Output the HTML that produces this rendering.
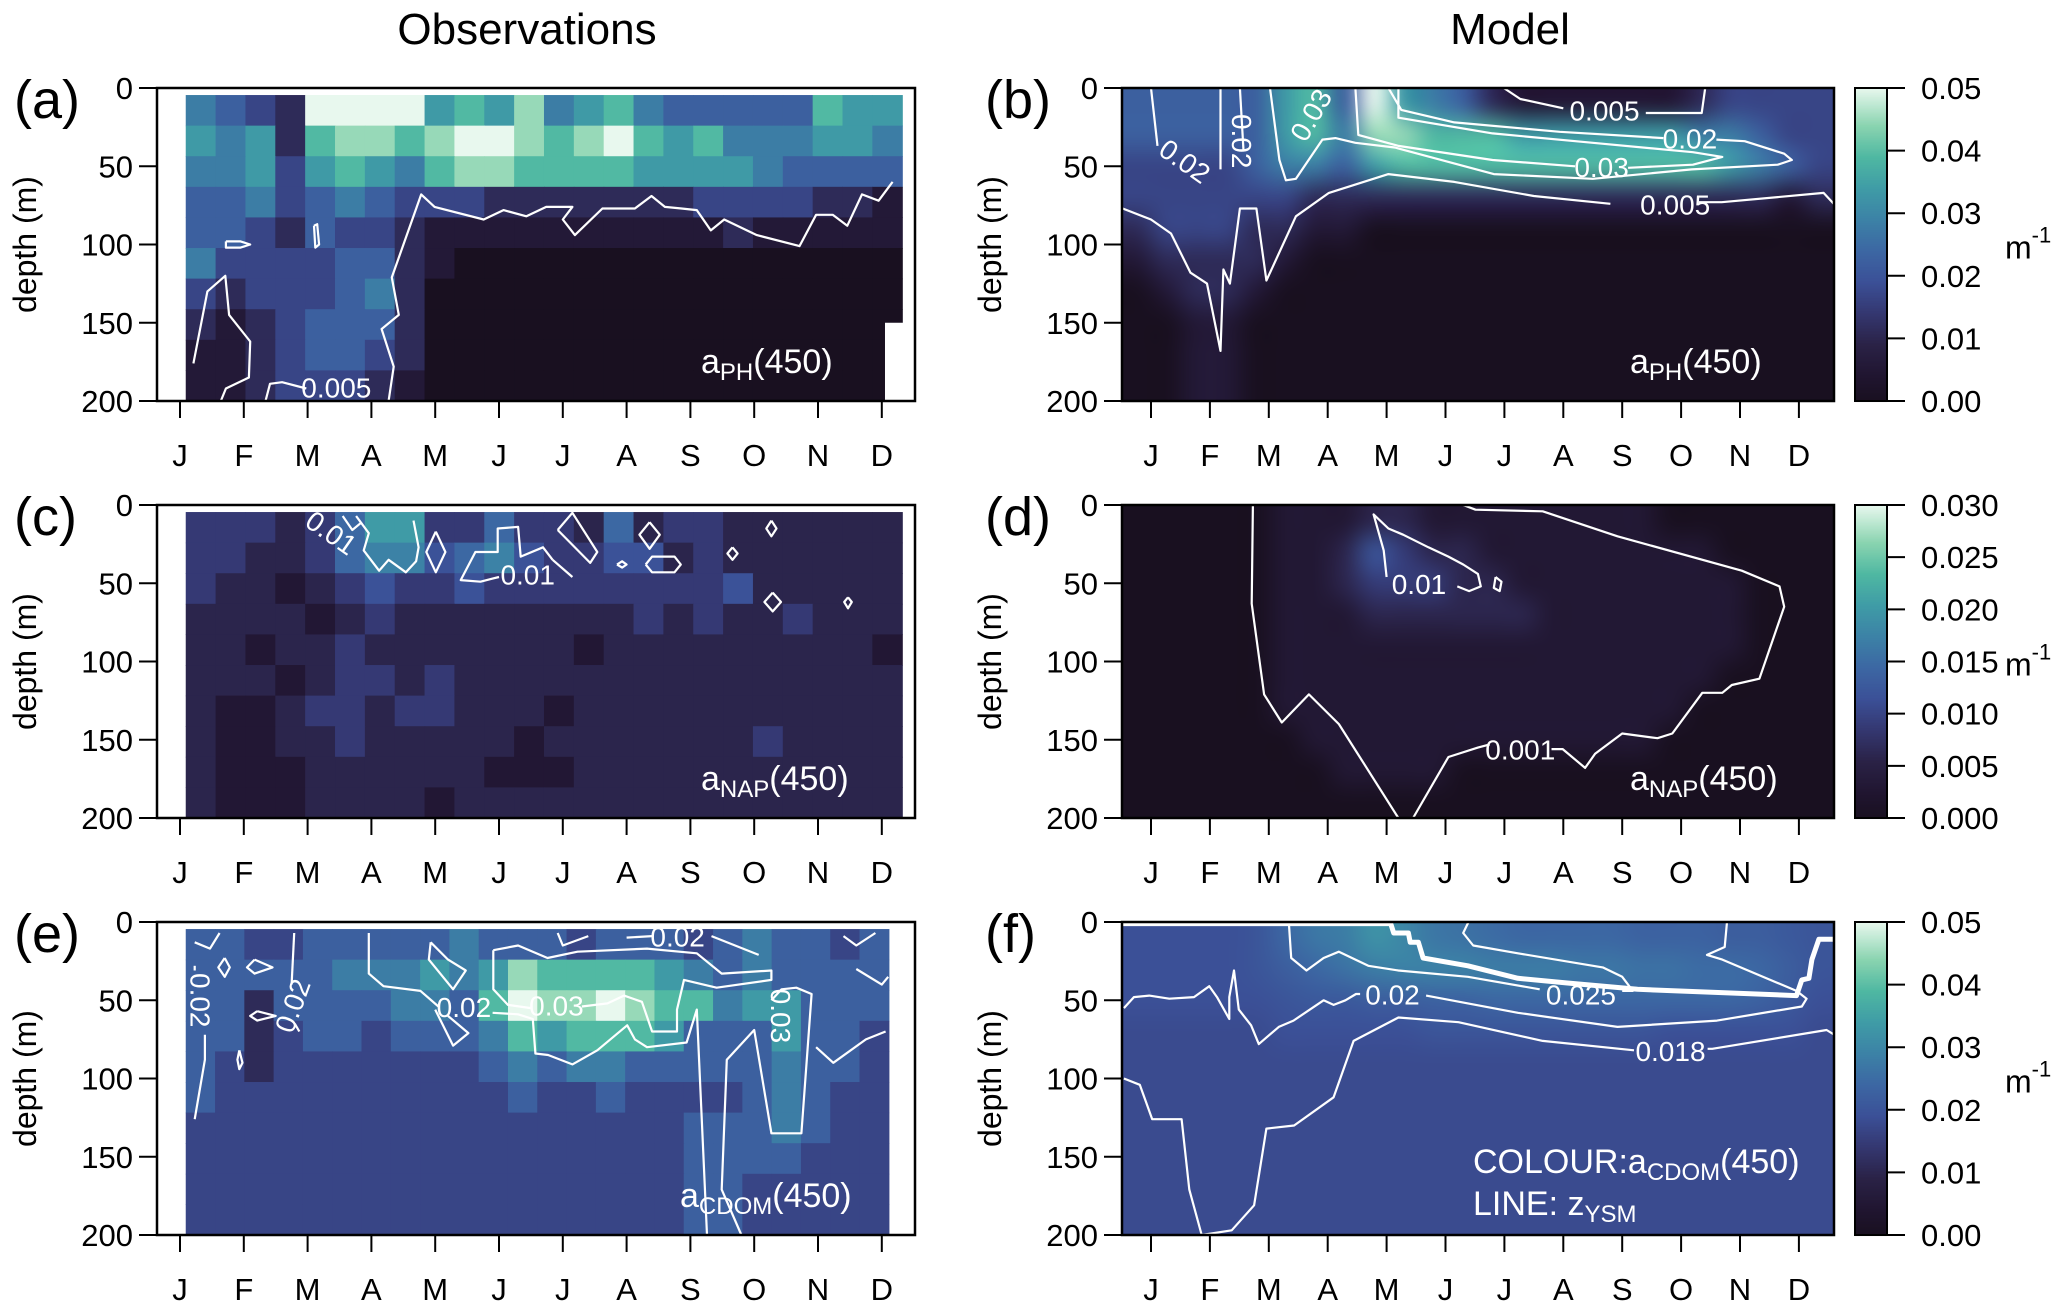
<!DOCTYPE html>
<html><head><meta charset="utf-8">
<style>
html,body{margin:0;padding:0;background:#fff;}
#wrap{position:relative;width:2067px;height:1310px;overflow:hidden;font-family:"Liberation Sans",sans-serif;}
#cv{position:absolute;left:0;top:0;}
#ov{position:absolute;left:0;top:0;}
</style></head>
<body>
<div id="wrap">
<canvas id="cv" width="2067" height="1310"></canvas>
<svg id="ov" width="2067" height="1310" xmlns="http://www.w3.org/2000/svg" font-family="Liberation Sans, sans-serif">
<text x="527" y="44" font-size="44" text-anchor="middle">Observations</text>
<text x="1510" y="44" font-size="44" text-anchor="middle">Model</text>
<g id="g"></g>
</svg>
</div>
<script>
const MONTHS=['J','F','M','A','M','J','J','A','S','O','N','D'];
const DEPTH_TICKS=[0,50,100,150,200];
const CB_TICKS_B=[0,0.01,0.02,0.03,0.04,0.05];
const CB_LABELS_B=['0.00','0.01','0.02','0.03','0.04','0.05'];
const CB_TICKS_D=[0,0.005,0.01,0.015,0.02,0.025,0.03];
const CB_LABELS_D=['0.000','0.005','0.010','0.015','0.020','0.025','0.030'];

const gridA=[
[5,4,3,2,9,9,9,9,6,7,6,8,5,6,7,5,4,4,4,4,4,7,6,6],
[6,5,6,2,7,8,8,7,8,9,9,8,7,8,9,7,6,7,5,5,5,6,6,5],
[5,5,6,3,6,7,6,5,7,8,8,7,7,7,7,6,6,6,6,5,4,4,4,4],
[4,4,5,3,4,5,4,3,3,3,2,2,2,2,2,2,2,3,3,3,3,2,2,1],
[4,4,3,2,4,3,3,2,1,1,1,1,1,1,1,1,1,1,2,1,1,1,1,1],
[5,3,3,3,3,4,4,2,1,0,0,0,0,0,0,0,0,0,0,0,0,0,0,0],
[3,2,3,3,3,4,5,2,0,0,0,0,0,0,0,0,0,0,0,0,0,0,0,0],
[2,1,2,3,4,4,4,2,0,0,0,0,0,0,0,0,0,0,0,0,0,0,0,0],
[1,1,2,3,4,4,3,2,0,0,0,0,0,0,0,0,0,0,0,0,0,0,0,0],
[1,1,2,3,3,3,2,1,0,0,0,0,0,0,0,0,0,0,0,0,0,0,0,0]];
const gridC=[
[3,3,3,2,3,5,7,7,3,3,5,3,3,2,5,2,3,3,2,2,2,2,2,2],
[3,3,2,2,3,5,6,6,4,5,6,4,3,3,4,4,2,3,2,2,2,2,2,2],
[3,2,2,1,2,3,4,3,3,4,3,3,3,3,3,3,3,3,4,2,2,2,2,2],
[2,2,2,2,1,2,3,2,2,2,2,2,2,2,2,3,2,3,2,2,3,2,2,2],
[2,2,1,2,2,3,2,2,2,2,2,2,2,1,2,2,2,2,2,2,2,2,2,1],
[2,2,2,1,2,3,3,2,3,2,2,2,2,2,2,2,2,2,2,2,2,2,2,2],
[2,1,1,2,3,3,2,3,3,2,2,2,1,2,2,2,2,2,2,2,2,2,2,2],
[2,1,1,2,2,3,2,2,2,2,2,1,2,2,2,2,2,2,2,3,2,2,2,2],
[2,1,1,1,2,2,2,2,2,2,1,1,1,2,2,2,2,2,2,2,2,2,2,2],
[2,1,1,1,2,2,2,2,1,2,2,2,2,2,2,2,2,2,2,2,2,2,2,2]];
const gridE=[
[4,4,3,3,4,4,4,4,4,5,4,4,4,3,4,4,4,3,4,5,4,4,3,4],
[4,4,4,4,4,5,5,5,6,5,6,8,7,7,7,7,6,5,4,5,4,4,4,4],
[4,4,2,4,4,4,4,5,5,4,7,9,8,8,9,8,7,7,5,6,6,4,4,4],
[4,4,2,3,4,4,3,4,4,4,5,7,6,7,7,7,6,4,4,4,6,4,4,3],
[4,3,2,3,3,3,3,3,3,3,4,5,4,5,5,4,4,4,4,4,5,4,4,3],
[4,3,3,3,3,3,3,3,3,3,3,4,3,3,4,3,3,3,3,4,5,4,3,3],
[3,3,3,3,3,3,3,3,3,3,3,3,3,3,3,3,3,4,4,4,5,4,3,3],
[3,3,3,3,3,3,3,3,3,3,3,3,3,3,3,3,3,4,4,4,4,3,3,3],
[3,3,3,3,3,3,3,3,3,3,3,3,3,3,3,3,3,4,4,3,3,3,3,3],
[3,3,3,3,3,3,3,3,3,3,3,3,3,3,3,3,3,4,4,3,3,3,3,3]];
const gridB=[
[4,4,4,4,4,6,7,4,9,6,5,4,2,1,1,1,1,1,1,2,3,3,3,3],
[4,4,4,4,4,6,7,5,8,8,7,7,7,6,6,6,6,6,6,5,5,4,3,3],
[3,3,3,3,4,5,5,4,6,7,7,7,7,7,7,7,7,7,7,7,6,5,4,3],
[3,3,3,3,3,3,2,2,2,2,2,2,2,2,2,2,2,2,2,2,2,2,1,2],
[2,3,3,3,2,2,1,1,0,0,0,0,0,0,0,0,0,0,0,0,0,0,0,0],
[1,2,2,2,2,1,0,0,0,0,0,0,0,0,0,0,0,0,0,0,0,0,0,0],
[0,1,2,2,1,0,0,0,0,0,0,0,0,0,0,0,0,0,0,0,0,0,0,0],
[0,0,1,1,0,0,0,0,0,0,0,0,0,0,0,0,0,0,0,0,0,0,0,0],
[0,0,1,1,0,0,0,0,0,0,0,0,0,0,0,0,0,0,0,0,0,0,0,0],
[0,0,1,1,0,0,0,0,0,0,0,0,0,0,0,0,0,0,0,0,0,0,0,0]];
const gridD=[
[0,0,0,0,0,1,1,1,2,2,1,1,1,1,1,1,1,1,0,0,0,0,0,0],
[0,0,0,0,0,1,1,2,4,3,2,2,1,1,1,1,1,1,1,1,0,0,0,0],
[0,0,0,0,0,1,1,2,3,3,3,2,2,1,1,1,1,1,1,1,1,0,0,0],
[0,0,0,0,0,1,1,1,2,2,2,2,2,2,1,1,1,1,1,1,1,0,0,0],
[0,0,0,0,0,1,1,1,1,1,1,1,1,1,1,1,1,1,1,1,1,0,0,0],
[0,0,0,0,0,1,1,1,1,1,1,1,1,1,1,1,1,1,1,1,0,0,0,0],
[0,0,0,0,0,1,1,1,1,1,1,1,1,1,1,1,1,1,1,0,0,0,0,0],
[0,0,0,0,0,0,1,1,1,1,1,1,1,1,1,1,1,1,0,0,0,0,0,0],
[0,0,0,0,0,0,0,1,1,1,1,0,0,0,0,0,0,0,0,0,0,0,0,0],
[0,0,0,0,0,0,0,0,0,0,0,0,0,0,0,0,0,0,0,0,0,0,0,0]];
const gridF=[
[19,19,19,19,20,24,27,28,32,30,27,26,25,24,24,24,24,23,23,23,22,22,21,20],
[19,19,19,19,20,22,24,26,28,29,29,29,28,28,28,27,27,26,26,25,25,24,22,20],
[19,19,19,19,19,20,21,21,22,22,23,23,24,24,24,24,24,24,24,24,24,23,21,19],
[18,18,18,18,18,19,19,19,19,19,20,20,20,20,20,20,20,20,19,19,19,19,19,18],
[18,18,18,18,18,18,18,18,18,18,18,18,18,18,18,18,18,18,18,18,18,18,18,18],
[18,18,18,18,18,18,18,18,18,18,18,18,18,18,18,18,18,18,18,18,18,18,18,18],
[18,18,18,18,18,18,18,18,18,18,18,18,18,18,18,18,18,18,18,18,18,18,18,18],
[18,18,18,18,18,18,18,18,18,18,18,18,18,18,18,18,18,18,18,18,18,18,18,18],
[18,18,18,18,18,18,18,18,18,18,18,18,18,18,18,18,18,18,18,18,18,18,18,18],
[18,18,18,18,18,18,18,18,18,18,18,18,18,18,18,18,18,18,18,18,18,18,18,18]];

const contA=[
[[3.27,200],[3.35,178],[3.16,154],[3.43,145],[3.32,121],[3.78,68],[3.99,76],[4.76,84],[5.07,78],[5.43,82],[5.74,76],[6.15,76],[6.0,84],[6.19,94],[6.62,77],[7.13,77],[7.39,69],[7.6,76],[7.86,77],[8.1,78],[8.32,91],[8.53,84],[9.04,94],[9.71,101],[9.97,81],[10.23,81],[10.46,88],[10.69,68],[10.95,72],[11.17,60]],
[[0.21,176],[0.43,130],[0.71,120],[0.77,145],[1.1,162],[1.08,185],[0.72,192],[0.64,200]],
[[1.34,200],[1.41,189],[1.6,188],[1.98,192]],
[[0.72,98],[0.95,98],[1.1,100],[0.95,102],[0.72,102],[0.72,98]],
[[2.1,88],[2.15,87],[2.18,100],[2.12,102],[2.1,88]]];
const labA=[['0.005',2.45,193,0]];
const contB=[
[[-0.48,77],[0,84],[0.34,93],[0.67,118],[0.95,125],[1.18,168],[1.23,116],[1.34,125],[1.51,77],[1.79,77],[1.96,123],[2.07,114],[2.46,82],[3.02,67],[4.03,55],[5.15,60],[6.5,69],[7.8,74]],
[[9.3,73],[9.69,73],[11.42,67],[11.59,74]],
[[5.99,0],[6.27,7],[7.0,13]],[[8.4,16],[9.35,16],[9.41,0]],
[[4.03,0],[4.25,14],[5.15,22],[6.94,28],[8.7,32]],
[[9.6,33],[10.08,34],[10.75,42],[10.88,46],[10.64,49],[9.18,52],[7.5,58],[5.82,55],[4.14,38],[3.47,35],[3.13,32],[2.91,33],[2.46,58],[2.29,59],[2.18,46],[2.02,0]],
[[3.47,0],[3.52,30],[4.2,37],[5.8,46],[7.2,50]],
[[8.1,51],[9.2,49],[9.7,44],[9.2,41],[7.5,35],[5.8,29],[4.2,19],[4.2,0]],
[[0,0],[0.11,37]],[[1.18,0],[1.18,52]],[[1.51,0],[1.57,40]]];
const labB=[['0.005',7.7,16,0],['0.02',9.15,34,0],['0.03',7.65,52,0],['0.005',8.9,76,0],['0.02',0.55,48,35],['0.02',1.5,34,90],['0.03',2.75,18,-60]];
const contC=[
[[2.76,7],[2.96,18],[2.88,29],[3.12,42],[3.27,35],[3.54,43],[3.7,36],[3.74,27],[3.66,10]],
[[2.55,7],[2.7,16],[2.85,11]],
[[4.01,17],[4.16,30],[4.01,43],[3.86,30],[4.01,17]],
[[5.84,35],[6.15,46]],[[5.0,46],[4.9,47],[4.71,49],[4.4,48],[4.63,30],[4.98,30],[4.98,15],[5.3,14],[5.34,33],[5.69,27],[5.84,35]],
[[5.92,16],[6.15,5],[6.54,30],[6.43,37],[5.92,16]],
[[7.36,11],[7.52,19],[7.36,28],[7.2,19],[7.36,11]],
[[7.3,38],[7.4,33],[7.75,33],[7.85,38],[7.75,43],[7.4,43],[7.3,38]],
[[9.27,10],[9.35,15],[9.27,20],[9.19,15],[9.27,10]],
[[8.66,27],[8.74,31],[8.66,35],[8.58,31],[8.66,27]],
[[9.29,56],[9.42,62],[9.29,68],[9.16,62],[9.29,56]],
[[10.47,59],[10.53,62],[10.47,66],[10.41,62],[10.47,59]],
[[6.85,38],[6.93,36],[7.0,38],[6.93,40],[6.85,38]]];
const labC=[['0.01',2.35,19,35],['0.01',5.45,46,0]];
const contD=[
[[1.73,0],[1.71,63],[1.92,121],[2.22,139],[2.68,121],[3.19,140],[4.2,200]],
[[4.45,200],[5.05,161],[5.55,155],[5.75,153]],
[[6.8,156],[6.99,156],[7.37,168],[7.54,159],[8.0,146],[8.6,149],[8.85,146],[9.36,120],[9.7,120],[9.86,115],[10.33,111],[10.75,65],[10.67,52],[10.03,42],[7.92,20],[6.65,4],[5.51,3],[5.3,0]],
[[4.0,46],[3.95,29],[3.78,6],[4.03,15],[4.28,19],[4.71,27],[5.05,33],[5.3,38],[5.55,44],[5.6,52],[5.4,55],[5.2,52]],
[[5.85,46],[5.95,49],[5.92,55],[5.82,53],[5.85,46]]];
const labD=[['0.01',4.55,52,0],['0.001',6.27,158,0]];
const contE=[
[[4.91,18],[5.3,15],[5.76,23],[6.23,19],[7.32,17],[8.1,20],[8.49,33],[9.27,31],[9.27,37],[8.41,42],[7.9,37],[7.79,56],[7.79,70],[7.4,70],[7.24,51],[6.96,47],[6.7,52],[6.3,54]],
[[5.5,55],[5.14,53],[4.91,43],[4.91,18]],
[[2.96,7],[2.96,33],[3.19,41],[3.77,44],[4.05,54]],
[[4.9,58],[5.3,59],[5.53,62],[5.57,84],[5.77,85],[6.15,91],[6.54,82],[7.01,66],[7.13,75],[7.32,80],[7.94,77],[8.1,56],[8.26,200]],
[[8.8,200],[8.49,171],[8.57,88],[9.0,69],[9.27,135],[9.74,135],[9.9,46],[9.66,42],[9.43,43],[9.27,50]],
[[9.97,80],[10.24,90],[10.75,75],[11.06,70]],
[[0.23,28],[0.23,31]],[[0.39,72],[0.39,88],[0.23,126]],
[[1.79,7],[1.75,40]],[[1.8,65],[1.87,70]],
[[0.23,13],[0.47,17],[0.62,7]],
[[0.7,23],[0.78,29],[0.7,35],[0.6,29],[0.7,23]],
[[1.17,24],[1.45,29],[1.17,33],[1.05,29],[1.17,24]],
[[1.21,57],[1.5,60],[1.21,63],[1.1,60],[1.21,57]],
[[0.93,82],[0.98,90],[0.93,94],[0.9,88],[0.93,82]],
[[5.92,7],[6.0,15],[6.4,9]],[[7.0,10],[7.4,9]],[[8.33,9],[9.07,21]],
[[3.93,13],[3.9,24],[4.28,43],[4.48,31],[4.2,24],[3.93,13]],
[[4.0,56],[4.28,79],[4.52,71],[4.2,60]],
[[10.4,9],[10.6,15],[10.9,7]],[[10.6,30],[11.0,40],[11.1,35]]];
const labE=[['0.02',0.28,50,90],['0.02',1.8,54,-70],['0.02',4.45,56,0],['0.03',5.9,55,0],['0.02',7.8,11,0],['0.03',9.38,60,90]];
const contF=[
[[2.34,0],[2.38,23],[2.64,31],[2.93,23],[3.19,19],[3.69,28],[4.2,31],[5.38,35],[6.6,43]],
[[8.0,44],[8.18,44],[8.0,35],[7.67,29],[6.23,20],[5.47,15],[5.3,7],[5.39,0]],
[[9.78,0],[9.74,16],[9.44,21],[9.7,24],[10.96,44],[11.13,49],[11.05,54],[9.61,63],[7.92,67],[6.23,58],[4.67,47]],
[[3.55,46],[3.48,46],[3.3,50],[3.1,53],[2.93,50],[2.42,63],[2.17,67],[1.83,78],[1.7,66],[1.49,56],[1.41,31],[1.33,48],[1.33,62],[1.12,48],[0.99,41],[0.73,48],[0.31,49],[-0.03,47],[-0.29,48],[-0.46,55]],
[[-0.46,100],[-0.19,104],[0.02,126],[0.52,126],[0.65,171],[0.86,200],[1.37,197],[1.75,181],[1.96,132],[2.43,130],[3.1,112],[3.44,76],[4.2,61],[5.22,64],[6.65,76],[8.2,82]],
[[9.45,81],[9.53,81],[11.47,69],[11.6,72]]];
const zysmF=[[-0.49,1],[2.26,1],[4.07,1],[4.12,7],[4.37,7],[4.4,13],[4.54,13],[4.62,23],[5.38,28],[6.23,36],[7.07,39],[8.26,43],[10.96,47],[11.05,37],[11.17,36],[11.22,24],[11.34,11],[11.6,11]];
const labF=[['0.02',4.1,48,0],['0.025',7.3,48,0],['0.018',8.82,84,0]];

const STOPS=[[0,'#191020'],[0.08,'#201530'],[0.18,'#2a2246'],[0.28,'#343770'],[0.38,'#3b5097'],[0.48,'#3c67a3'],[0.58,'#3c82a6'],[0.68,'#3f9ca6'],[0.78,'#4fb8a2'],[0.88,'#8ad4b0'],[1,'#e8f8ee']];
function hex(h){return [parseInt(h.substr(1,2),16),parseInt(h.substr(3,2),16),parseInt(h.substr(5,2),16)];}
function cmap(f){f=Math.max(0,Math.min(1,f));for(let i=1;i<STOPS.length;i++){if(f<=STOPS[i][0]){const a=STOPS[i-1],b=STOPS[i];const t=(f-a[0])/(b[0]-a[0]);const ca=hex(a[1]),cb=hex(b[1]);return ca.map((v,k)=>Math.round(v+(cb[k]-v)*t));}}return hex(STOPS[STOPS.length-1][1]);}

const ROWTOP=[88,505,922], PH=313;
const COLS=[{box0:157,box1:915,t0:180,dx:63.8},{box0:1122,box1:1834,t0:1151,dx:58.9}];
function xS(c,m){return COLS[c].t0+m*COLS[c].dx;}
function yS(r,d){return ROWTOP[r]+d*PH/200;}

const panels=[
{id:'a',c:0,r:0,grid:gridA,unit:0.0056,vmax:0.05,smooth:false,m0:0.09,m1:11.32,d0:4.5,cont:contA,lab:labA,sub:'PH'},
{id:'b',c:1,r:0,grid:gridB,unit:0.0056,vmax:0.05,smooth:true,m0:-0.49,m1:11.6,d0:0,cont:contB,lab:labB,sub:'PH',cb:[CB_TICKS_B,CB_LABELS_B]},
{id:'c',c:0,r:1,grid:gridC,unit:0.0029,vmax:0.03,smooth:false,m0:0.09,m1:11.32,d0:4.5,cont:contC,lab:labC,sub:'NAP'},
{id:'d',c:1,r:1,grid:gridD,unit:0.003,vmax:0.03,smooth:true,m0:-0.49,m1:11.6,d0:0,cont:contD,lab:labD,sub:'NAP',cb:[CB_TICKS_D,CB_LABELS_D]},
{id:'e',c:0,r:2,grid:gridE,unit:0.0056,vmax:0.05,smooth:false,m0:0.09,m1:11.11,d0:4.5,cont:contE,lab:labE,sub:'CDOM'},
{id:'f',c:1,r:2,grid:gridF,unit:0.001,vmax:0.05,smooth:true,m0:-0.49,m1:11.6,d0:0,cont:contF,lab:labF,sub:'CDOM',cb:[CB_TICKS_B,CB_LABELS_B]}];

const ctx=document.getElementById('cv').getContext('2d');
const g=document.getElementById('g');
const NS='http://www.w3.org/2000/svg';
function mk(tag,attrs,parent){const e=document.createElementNS(NS,tag);for(const k in attrs)e.setAttribute(k,attrs[k]);(parent||g).appendChild(e);return e;}

panels.forEach(p=>{
  const C=COLS[p.c];
  const x0=xS(p.c,p.m0),x1=xS(p.c,p.m1),y0=yS(p.r,p.d0),y1=yS(p.r,200);
  const rows=p.grid.length,cols=p.grid[0].length;
  const pg=mk('g',{});
  
  
  if(!p.smooth){
    const cw=(x1-x0)/cols,ch=(y1-y0)/rows;
    p.grid.forEach((row,j)=>row.forEach((v,i)=>{
      const col=cmap(v*p.unit/p.vmax);
      const rc=mk('rect',{x:(x0+i*cw).toFixed(2),y:(y0+j*ch).toFixed(2),width:(cw+0.6).toFixed(2),height:(ch+0.6).toFixed(2),fill:'rgb('+col.join(',')+')'},pg);
      
      
    }));
  } else {
    const sc=document.createElement('canvas');sc.width=cols;sc.height=rows;
    const sx=sc.getContext('2d');const im=sx.createImageData(cols,rows);
    p.grid.forEach((row,j)=>row.forEach((v,i)=>{const col=cmap(v*p.unit/p.vmax);const o=(j*cols+i)*4;im.data[o]=col[0];im.data[o+1]=col[1];im.data[o+2]=col[2];im.data[o+3]=255;}));
    sx.putImageData(im,0,0);
    ctx.imageSmoothingEnabled=true;ctx.imageSmoothingQuality='high';
    ctx.drawImage(sc,x0,y0,x1-x0,y1-y0);
  }
  if(p.id==='a'){const w=mk('rect',{x:xS(0,11.05),y:yS(0,150),width:xS(0,11.32)-xS(0,11.05)+1,height:yS(0,200)-yS(0,150),fill:'#fff'},pg);}
  p.cont.forEach(line=>{
    const d=line.map((pt,k)=>(k?'L':'M')+xS(p.c,pt[0]).toFixed(1)+' '+yS(p.r,Math.max(0,pt[1])).toFixed(1)).join(' ');
    const pa=mk('path',{d:d,fill:'none',stroke:'#fff','stroke-width':2.2,'stroke-linejoin':'round'},pg);
    
    
  });
  if(p.id==='f'){
    const d=zysmF.map((pt,k)=>(k?'L':'M')+xS(1,pt[0]).toFixed(1)+' '+yS(2,pt[1]).toFixed(1)).join(' ');
    const pa=mk('path',{d:d,fill:'none',stroke:'#fff','stroke-width':5,'stroke-linejoin':'round'},pg);
    
    
  }
  p.lab.forEach(l=>{
    const tx=xS(p.c,l[1]),ty=yS(p.r,l[2]);
    const t=mk('text',{x:tx,y:ty,'font-size':28,fill:'#fff','text-anchor':'middle','dominant-baseline':'middle',transform:'rotate('+l[3]+' '+tx+' '+ty+')'},pg);
    t.textContent=l[0];
    
    
  });
  const fr=mk('rect',{x:C.box0,y:ROWTOP[p.r],width:C.box1-C.box0,height:PH,fill:'none',stroke:'#000','stroke-width':2.5},pg);
  
  
  MONTHS.forEach((mo,i)=>{
    const x=xS(p.c,i);
    const tk=mk('line',{x1:x,x2:x,y1:ROWTOP[p.r]+PH,y2:ROWTOP[p.r]+PH+17,stroke:'#000','stroke-width':2},pg);
    
    
    const t=mk('text',{x:x,y:ROWTOP[p.r]+PH+65,'font-size':31,'text-anchor':'middle'},pg);
    t.textContent=mo;
    
    
  });
  DEPTH_TICKS.forEach(dv=>{
    const y=yS(p.r,dv);
    const tk=mk('line',{x1:C.box0-18,x2:C.box0,y1:y,y2:y,stroke:'#000','stroke-width':2},pg);
    
    
    const t=mk('text',{x:C.box0-24,y:y+11,'font-size':31,'text-anchor':'end'},pg);
    t.textContent=dv;
    
    
  });
  const yl=C.box0-121, ym=ROWTOP[p.r]+PH/2;
  const yt=mk('text',{x:yl,y:ym,'font-size':32,'text-anchor':'middle',transform:'rotate(-90 '+yl+' '+ym+')'},pg);
  yt.textContent='depth (m)';
  
  
  const pl=mk('text',{x:p.c?985:14,y:ROWTOP[p.r]+30,'font-size':54},pg);
  pl.textContent='('+p.id+')';
  
  
  if(p.id!=='f'){
    const lx=p.id==='e'?680:(p.c?1630:701), ly=ROWTOP[p.r]+285;
    const t=mk('text',{x:lx,y:ly,'font-size':34,fill:'#fff'},pg);
    
    
    mk('tspan',{},t).textContent='a';
    mk('tspan',{'font-size':24,dy:7},t).textContent=p.sub;
    mk('tspan',{dy:-7},t).textContent='(450)';
  } else {
    const t=mk('text',{x:1473,y:1173,'font-size':34,fill:'#fff'},pg);
    
    
    mk('tspan',{},t).textContent='COLOUR:a';
    mk('tspan',{'font-size':24,dy:7},t).textContent='CDOM';
    mk('tspan',{dy:-7},t).textContent='(450)';
    const t2=mk('text',{x:1473,y:1215,'font-size':34,fill:'#fff'},pg);
    
    
    mk('tspan',{},t2).textContent='LINE: z';
    mk('tspan',{'font-size':24,dy:7},t2).textContent='YSM';
  }
  if(p.cb){
    const cx0=1855,cx1=1887,cy0=ROWTOP[p.r],cy1=ROWTOP[p.r]+PH;
    for(let y=cy0;y<cy1;y++){const col=cmap(1-(y-cy0)/(cy1-cy0));ctx.fillStyle='rgb('+col.join(',')+')';ctx.fillRect(cx0,y,cx1-cx0,1.2);}
    const cb=mk('rect',{x:cx0,y:cy0,width:cx1-cx0,height:PH,fill:'none',stroke:'#000','stroke-width':2},pg);
    
    
    const [ticks,labs]=p.cb, mx=ticks[ticks.length-1];
    ticks.forEach((tv,k)=>{
      const y=cy1-tv/mx*PH;
      const tk=mk('line',{x1:cx1,x2:cx1+18,y1:y,y2:y,stroke:'#000','stroke-width':2},pg);
      
      
      const t=mk('text',{x:1921,y:y+11,'font-size':31},pg);
      t.textContent=labs[k];
      
      
    });
    const u=mk('text',{x:2005,y:cy0+PH/2+14,'font-size':32},pg);
    
    
    mk('tspan',{},u).textContent='m';
    mk('tspan',{'font-size':22,dy:-16},u).textContent='-1';
  }
});
</script>
</body></html>
